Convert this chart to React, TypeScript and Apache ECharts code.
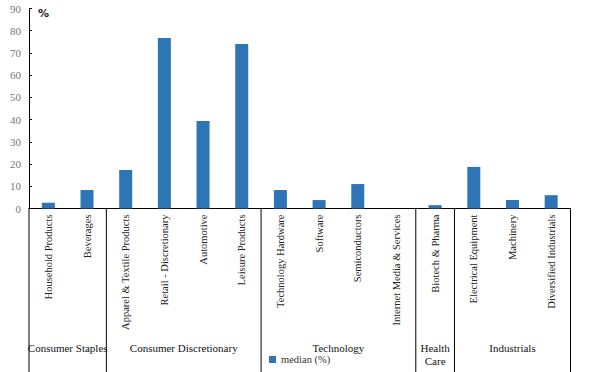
import React, { useEffect, useRef } from "react";
import * as echarts from "echarts";

const categories = [
  "Household Products",
  "Beverages",
  "Apparel & Textile Products",
  "Retail - Discretionary",
  "Automotive",
  "Leisure Products",
  "Technology Hardware",
  "Software",
  "Semiconductors",
  "Internet Media & Services",
  "Biotech & Pharma",
  "Electrical Equipment",
  "Machinery",
  "Diversified Industrials",
];
const medianValues = [2.6, 8.3, 17.3, 76.7, 39.4, 74, 8.3, 3.8, 11, 0, 1.5, 18.7, 3.8, 6];
const groupNames = ["Consumer Staples", "Consumer Discretionary", "Technology", "Health\nCare", "Industrials"];
const groupSizes = [2, 4, 4, 1, 3];
const yTicks = { min: 0, max: 90, interval: 10 };

const FONT = "serif";

export default function App() {
  const ref = useRef<HTMLDivElement>(null);
  useEffect(() => {
    document.body.style.margin = "0";
    const chart = echarts.init(ref.current!, null, { renderer: "svg" });
    const option: any = {
      animation: false,
      backgroundColor: "#fff",
      textStyle: { fontFamily: FONT },
      grid: { left: 29, right: 31.5, top: 8.5, bottom: 163.5, containLabel: false },
      legend: {
        data: ["median (%)"],
        left: 264,
        top: 349,
        itemWidth: 7,
        itemHeight: 7,
        itemGap: 4,
        icon: "rect",
        textStyle: { fontFamily: FONT, fontSize: 10.5, color: "#333" },
      },
      xAxis: {
        type: "category",
        data: categories,
        axisLine: { lineStyle: { color: "#000", width: 1 } },
        axisTick: { show: false },
        axisLabel: {
          rotate: 90,
          interval: 0,
          margin: 6,
          fontFamily: FONT,
          fontSize: 10.5,
          color: "#222",
        },
      },
      yAxis: {
        type: "value",
        min: yTicks.min,
        max: yTicks.max,
        interval: yTicks.interval,
        splitLine: { show: false },
        axisLine: { show: true, lineStyle: { color: "#000", width: 1 } },
        axisTick: { show: true, inside: true, length: 3, lineStyle: { color: "#000" } },
        axisLabel: { margin: 8, fontFamily: FONT, fontSize: 11, color: "#777" },
      },
      series: [
        {
          name: "median (%)",
          type: "bar",
          data: medianValues,
          barWidth: 13,
          itemStyle: { color: "#2E75B6" },
        },
      ],
    };
    chart.setOption(option);

    const x0 = chart.convertToPixel({ xAxisIndex: 0 }, categories[0]) as number;
    const x1 = chart.convertToPixel({ xAxisIndex: 0 }, categories[1]) as number;
    const band = x1 - x0;
    const left = x0 - band / 2;
    const baseY = chart.convertToPixel({ yAxisIndex: 0 }, 0) as number;
    const H = 372;
    const elements: any[] = [];
    let idx = 0;
    elements.push({
      type: "line",
      shape: { x1: left, y1: baseY, x2: left, y2: H },
      style: { stroke: "#000", lineWidth: 1 },
      silent: true,
    });
    groupSizes.forEach((n, g) => {
      const start = left + idx * band;
      idx += n;
      const end = left + idx * band;
      elements.push({
        type: "line",
        shape: { x1: end, y1: baseY, x2: end, y2: H },
        style: { stroke: "#000", lineWidth: 1 },
        silent: true,
      });
      elements.push({
        type: "text",
        x: (start + end) / 2,
        y: 341,
        style: {
          text: groupNames[g],
          fontFamily: FONT,
          fontSize: 11,
          fill: "#111",
          align: "center",
          verticalAlign: "top",
          lineHeight: 13,
        },
        silent: true,
      });
    });
    elements.push({
      type: "text",
      x: 38,
      y: 8,
      style: { text: "%", fontFamily: "DejaVu Sans", fontSize: 11, fontWeight: "bold", fill: "#222" },
    });
    chart.setOption({ graphic: { elements } });
    return () => chart.dispose();
  }, []);
  return <div ref={ref} style={{ width: 602, height: 372 }} />;
}
